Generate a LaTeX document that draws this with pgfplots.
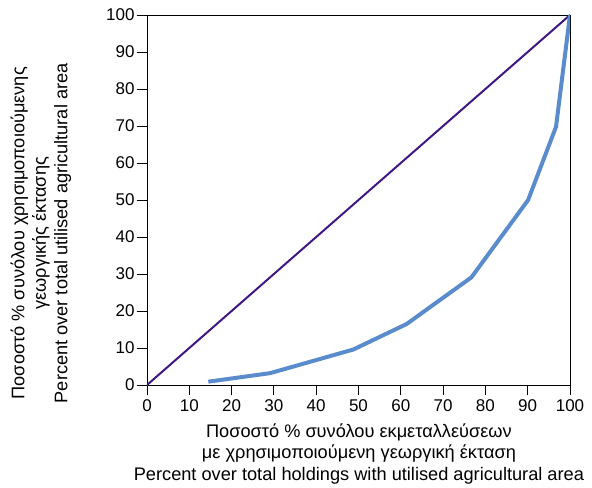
\documentclass[border=0pt]{standalone}
\usepackage{pgfplots}
\pgfplotsset{compat=1.18}
\usepackage{fontspec}
\setmainfont{Liberation Sans}
\definecolor{lorenz}{HTML}{5A8CCD}
\definecolor{diag}{HTML}{3E1880}
\begin{document}
\begin{tikzpicture}
\begin{axis}[
  scale only axis,
  width=423pt, height=370pt,
  xmin=0, xmax=100, ymin=0, ymax=100,
  xtick={0,10,...,100}, ytick={0,10,...,100},
  tick pos=left, tick align=outside,
  major tick length=10pt,
  every tick/.style={black, line width=0.8pt},
  axis line style={black, line width=0.8pt},
  /pgf/number format/assume math mode=true,
  ticklabel style={font=\fontsize{17}{20}\selectfont},
  xticklabel style={yshift=-1pt},
  yticklabel style={xshift=1pt},
  label style={font=\fontsize{18.2}{21.5}\selectfont, align=center},
  xlabel={Ποσοστό \% συνόλου εκμεταλλεύσεων\\με χρησιμοποιούμενη γεωργική έκταση\\Percent over total holdings with utilised agricultural area},
  ylabel={Ποσοστό \% συνόλου χρησιμοποιούμενης\\γεωργικής έκτασης\\Percent over total utilised agricultural area},
  xlabel style={at={(axis description cs:0.501,-0.186)}, anchor=center},
  ylabel style={at={(axis description cs:-0.2506,0.41)}, anchor=center, rotate=0},
]
\addplot[diag, line width=2pt] coordinates {(0,0) (100,100)};
\addplot[lorenz, line width=4pt, line join=round] coordinates {
(14.5,0.9) (29.1,3.2) (48.8,9.6) (61.4,16.5) (76.7,29.1) (90.1,50) (96.7,69.8) (100,100)};
\end{axis}
\path (current axis.south west) ++(-147pt,-101pt) rectangle ++(592pt,486pt);
\end{tikzpicture}
\end{document}
